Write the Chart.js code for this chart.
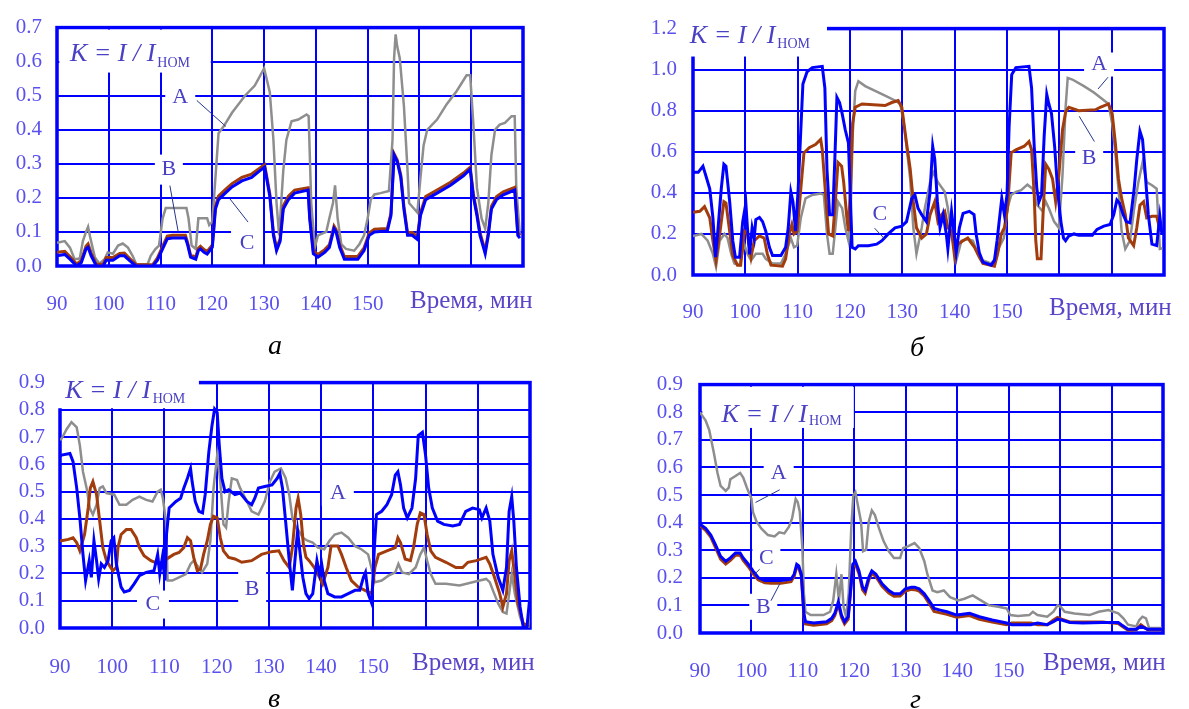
<!DOCTYPE html>
<html>
<head>
<meta charset="utf-8">
<script src="https://cdn.jsdelivr.net/npm/chart.js@4.4.1/dist/chart.umd.min.js"></script>
<style>
    body { margin: 0; background: #fff; width: 1189px; height: 709px; position: relative; overflow: hidden; font-family: 'Liberation Serif', serif; }
    canvas { position: absolute; }
    .cap { position: absolute; font-style: italic; font-size: 28px; line-height: 28px; color: #000; }
</style>
</head>
<body>
<canvas id="chart-a" width="560" height="330" style="left:0;top:0"></canvas>
<canvas id="chart-b" width="559" height="330" style="left:630px;top:0"></canvas>
<canvas id="chart-v" width="560" height="330" style="left:0;top:355px"></canvas>
<canvas id="chart-g" width="559" height="330" style="left:630px;top:355px"></canvas>
<div class="cap" style="left:268px;top:331px">а</div>
<div class="cap" style="left:910px;top:333px">б</div>
<div class="cap" style="left:268px;top:684px">в</div>
<div class="cap" style="left:910px;top:685px">г</div>

<script>
/* ---------- Данные: [время, мин ; K = I / Iном] ---------- */
const xTicks = [90, 100, 110, 120, 130, 140, 150];   // подписанные деления оси времени
const seriesNames = ['A', 'B', 'C'];

// а
const aA = [[90,0.068],[91.5,0.073],[92.5,0.054],[93.4,0.02],[94.4,0.022],[95,0.073],[95.6,0.10],[96,0.115],[96.4,0.085],[97.3,0.026],[98.2,0.007],[99.2,0.02],[99.8,0.04],[100.8,0.036],[101.8,0.06],[102.7,0.066],[103.7,0.054],[104.6,0.03],[105.3,0.005],[107.5,0.005],[108.1,0.03],[109,0.05],[109.7,0.06],[110.4,0.14],[111,0.17],[115,0.17],[115.4,0.14],[116,0.06],[116.8,0.05],[117.3,0.14],[119,0.14],[119.4,0.12],[120,0.13],[121.2,0.39],[122.2,0.41],[123.8,0.45],[126.3,0.50],[128.2,0.53],[130,0.58],[131.1,0.51],[131.8,0.37],[132.4,0.185],[132.9,0.09],[133.7,0.28],[134.3,0.37],[135.3,0.425],[136.6,0.43],[138.2,0.445],[138.6,0.44],[139.1,0.185],[139.8,0.055],[140.4,0.09],[142,0.10],[142.6,0.14],[143.3,0.185],[143.7,0.237],[144.2,0.14],[144.9,0.064],[145.8,0.05],[147.4,0.045],[148.4,0.064],[149.3,0.09],[150,0.14],[150.6,0.195],[151.3,0.21],[152.5,0.214],[154.1,0.22],[154.8,0.37],[155.1,0.61],[155.4,0.68],[155.7,0.645],[156.2,0.61],[157,0.47],[157.7,0.28],[158,0.185],[159.6,0.157],[160.2,0.26],[160.8,0.354],[161.5,0.40],[163.4,0.43],[165.3,0.476],[167.2,0.514],[169.1,0.56],[169.8,0.56],[170.4,0.42],[171.1,0.23],[172,0.14],[172.7,0.11],[173.3,0.185],[173.9,0.326],[174.6,0.40],[175.5,0.415],[176.5,0.42],[177.8,0.44],[178.4,0.44],[178.7,0.23],[179.4,0.09]];
const aB = [[90,0.04],[91.5,0.043],[92.5,0.028],[93.8,0.006],[94.7,0.016],[95.6,0.058],[96,0.065],[96.6,0.038],[97.6,0.005],[98.9,0.005],[99.5,0.025],[100.8,0.025],[102.1,0.037],[103,0.038],[104.3,0.018],[105.3,0.004],[108.5,0.004],[109.4,0.024],[110.4,0.058],[111.3,0.088],[112.3,0.09],[114.8,0.09],[115.2,0.07],[115.8,0.032],[116.8,0.027],[117.3,0.052],[117.7,0.058],[118.4,0.048],[119,0.043],[120,0.062],[120.6,0.175],[121.2,0.205],[122.5,0.224],[123.8,0.242],[125.7,0.26],[127.6,0.27],[129.2,0.288],[130.1,0.297],[131.1,0.212],[131.8,0.097],[132.4,0.052],[133.1,0.08],[133.7,0.176],[134.7,0.205],[135.9,0.223],[138.5,0.23],[138.8,0.147],[139.5,0.044],[140.4,0.034],[141.7,0.048],[142.6,0.062],[143.5,0.117],[143.9,0.107],[144.6,0.062],[145.5,0.028],[148.1,0.028],[149.3,0.053],[150.3,0.097],[151.3,0.108],[153.8,0.11],[154.5,0.155],[155.1,0.33],[155.7,0.312],[156.4,0.267],[157,0.175],[157.7,0.098],[158.6,0.098],[159.6,0.086],[160.2,0.156],[161.2,0.204],[163.4,0.223],[166,0.246],[168.5,0.273],[169.8,0.29],[170.4,0.213],[171.1,0.156],[171.7,0.098],[172.7,0.044],[173.3,0.098],[173.9,0.175],[174.9,0.204],[176.2,0.218],[178.4,0.231],[179,0.098],[179.4,0.09]];
const aC = [[90,0.03],[91.5,0.034],[92.5,0.02],[93.8,0.0],[94.7,0.01],[95.6,0.05],[96,0.055],[96.6,0.03],[97.6,0.0],[98.9,0.0],[99.5,0.017],[100.8,0.017],[102.1,0.03],[103,0.03],[104.3,0.012],[105.3,0],[108.5,0],[109.4,0.017],[110.4,0.05],[111.3,0.08],[112.3,0.082],[114.8,0.082],[115.2,0.064],[115.8,0.026],[116.8,0.02],[117.3,0.045],[117.7,0.05],[118.4,0.04],[119,0.035],[120,0.055],[120.6,0.167],[121.2,0.195],[122.5,0.214],[123.8,0.232],[125.7,0.25],[127.6,0.26],[129.2,0.28],[130.1,0.29],[131.1,0.205],[131.8,0.09],[132.4,0.045],[133.1,0.073],[133.7,0.167],[134.7,0.195],[135.9,0.214],[138.5,0.223],[138.8,0.14],[139.5,0.036],[140.4,0.026],[141.7,0.04],[142.6,0.054],[143.5,0.11],[143.9,0.10],[144.6,0.054],[145.5,0.02],[148.1,0.02],[149.3,0.045],[150.3,0.09],[151.3,0.10],[153.8,0.103],[154.5,0.148],[155.1,0.326],[155.7,0.307],[156.4,0.26],[157,0.167],[157.7,0.09],[158.6,0.09],[159.6,0.078],[160.2,0.148],[161.2,0.195],[163.4,0.214],[166,0.237],[168.5,0.265],[169.8,0.284],[170.4,0.205],[171.1,0.148],[171.7,0.09],[172.7,0.036],[173.3,0.09],[173.9,0.167],[174.9,0.195],[176.2,0.209],[178.4,0.223],[179,0.09],[179.4,0.082]];

// б
const bA = [[90,0.19],[91.6,0.2],[92.8,0.167],[93.8,0.103],[94.4,0.04],[95.1,0.167],[96,0.2],[96.6,0.18],[97.3,0.103],[97.9,0.056],[98.9,0.048],[99.8,0.15],[100.4,0.103],[101.1,0.071],[102,0.103],[103.3,0.103],[103.9,0.079],[105.2,0.056],[106.8,0.056],[107.7,0.103],[108.7,0.18],[109.3,0.135],[109.9,0.143],[110.6,0.278],[111.5,0.373],[112.8,0.39],[114.4,0.397],[115,0.39],[115.6,0.2],[116.1,0.103],[116.7,0.103],[117.2,0.23],[117.7,0.357],[118.5,0.325],[119.1,0.23],[119.7,0.167],[120.1,0.278],[120.5,0.675],[121,0.897],[121.6,0.944],[122.9,0.92],[124.8,0.897],[126.7,0.873],[128.6,0.85],[129.6,0.833],[130.2,0.754],[130.8,0.627],[131.5,0.468],[132.1,0.23],[132.7,0.103],[133.7,0.23],[134.3,0.325],[135.3,0.452],[135.9,0.5],[136.8,0.452],[138.1,0.405],[138.7,0.325],[139.4,0.2],[140.3,0.071],[141.3,0.167],[142.5,0.175],[143.5,0.167],[144.4,0.103],[145.4,0.071],[147,0.056],[147.9,0.087],[148.5,0.135],[149.4,0.18],[150.1,0.325],[150.8,0.39],[151.7,0.405],[152.7,0.413],[153.9,0.44],[154.9,0.42],[155.8,0.34],[156.8,0.31],[157.4,0.357],[158,0.325],[159,0.26],[159.9,0.23],[160.6,0.484],[161.2,0.817],[161.6,0.96],[162.5,0.952],[164.7,0.92],[166.6,0.889],[168.2,0.857],[169.4,0.833],[170.1,0.738],[170.7,0.595],[171.3,0.42],[171.9,0.214],[172.6,0.127],[173.5,0.167],[174.3,0.325],[175.1,0.452],[175.9,0.548],[176.7,0.452],[177.7,0.437],[178.6,0.42],[179.2,0.127],[179.7,0.13]];
const bB = [[90,0.306],[91.3,0.31],[92.2,0.333],[93.2,0.278],[93.8,0.167],[94.4,0.071],[95.1,0.2],[95.9,0.357],[96.3,0.35],[97,0.214],[97.6,0.095],[98.5,0.048],[99.1,0.048],[99.8,0.214],[100.4,0.2],[101.1,0.087],[101.7,0.167],[102.7,0.19],[103.6,0.18],[104.2,0.103],[104.9,0.048],[107.1,0.043],[107.7,0.079],[108.4,0.2],[108.9,0.246],[109.3,0.2],[109.9,0.214],[110.6,0.42],[111.2,0.595],[112.2,0.62],[113.4,0.635],[114.4,0.66],[114.7,0.61],[115.3,0.405],[115.9,0.2],[116.7,0.19],[117.2,0.357],[117.7,0.548],[118.4,0.53],[118.8,0.45],[119.4,0.278],[119.7,0.214],[120.1,0.437],[120.5,0.738],[121,0.817],[122.3,0.833],[126.7,0.825],[128,0.84],[129.2,0.85],[129.9,0.817],[130.8,0.643],[131.5,0.516],[132.1,0.357],[132.7,0.23],[133.7,0.18],[134.6,0.2],[135.3,0.294],[136.2,0.357],[136.8,0.26],[137.5,0.294],[138.1,0.31],[138.7,0.23],[139.4,0.214],[140,0.087],[140.6,0.15],[141.6,0.167],[142.5,0.18],[143.8,0.135],[144.7,0.087],[145.4,0.056],[147.6,0.043],[148.2,0.103],[148.9,0.2],[149.5,0.23],[150.1,0.325],[150.8,0.595],[151.7,0.61],[153.3,0.627],[154.2,0.65],[154.7,0.61],[155.2,0.39],[155.5,0.167],[155.8,0.079],[156.5,0.079],[157,0.357],[157.4,0.54],[158,0.516],[158.7,0.468],[159.3,0.357],[159.9,0.484],[160.6,0.706],[161.2,0.794],[161.8,0.817],[163.7,0.8],[166.9,0.805],[167.8,0.817],[169.4,0.833],[170.1,0.786],[170.7,0.643],[171.3,0.468],[171.9,0.373],[172.6,0.294],[173.2,0.18],[174.2,0.143],[174.8,0.23],[175.4,0.34],[176.1,0.357],[176.7,0.278],[177.7,0.286],[178.6,0.286],[179.2,0.222],[179.6,0.214]];
const bC = [[90,0.50],[91,0.5],[91.9,0.53],[92.5,0.48],[93.2,0.42],[93.8,0.28],[94.3,0.087],[94.7,0.2],[95.4,0.42],[95.9,0.54],[96.3,0.53],[97,0.36],[97.6,0.167],[98.1,0.087],[98.9,0.087],[99.5,0.26],[100.1,0.35],[100.4,0.23],[100.8,0.10],[101.3,0.23],[101.7,0.18],[102,0.27],[102.7,0.28],[103.3,0.26],[103.9,0.214],[104.6,0.135],[105.2,0.095],[106.8,0.095],[107.7,0.135],[108.2,0.23],[108.7,0.405],[109.1,0.357],[109.6,0.214],[110.1,0.42],[110.6,0.706],[111,0.93],[111.8,0.99],[112.8,1.01],[114.7,1.016],[115.2,0.91],[115.6,0.515],[116.1,0.294],[116.7,0.294],[117.1,0.563],[117.5,0.865],[118,0.84],[118.5,0.786],[119.1,0.706],[119.7,0.643],[120.1,0.357],[120.4,0.135],[121,0.127],[121.6,0.143],[123.5,0.143],[125.1,0.15],[126.1,0.167],[127.3,0.2],[128.6,0.23],[129.9,0.238],[130.8,0.26],[131.8,0.373],[132.4,0.39],[133,0.325],[133.7,0.294],[134.6,0.26],[135.3,0.405],[135.8,0.627],[136.2,0.563],[136.7,0.357],[137.2,0.23],[137.8,0.294],[138.4,0.2],[138.7,0.127],[139.4,0.31],[139.9,0.2],[140.3,0.11],[140.9,0.23],[141.6,0.30],[142.8,0.31],[143.7,0.294],[144.1,0.2],[144.7,0.11],[145.4,0.063],[147,0.048],[147.6,0.071],[148.1,0.167],[148.5,0.26],[149,0.373],[149.5,0.294],[150,0.39],[150.4,0.72],[150.9,0.976],[151.7,1.01],[154.2,1.016],[154.7,0.91],[155.2,0.627],[155.7,0.42],[156.1,0.357],[156.6,0.39],[157.1,0.675],[157.6,0.88],[158,0.833],[158.5,0.786],[159.1,0.627],[159.7,0.405],[160.3,0.26],[160.8,0.18],[161.2,0.167],[161.8,0.19],[162.8,0.2],[163.7,0.194],[166.3,0.194],[167.2,0.222],[168.5,0.238],[169.7,0.246],[170.4,0.294],[171,0.365],[171.5,0.35],[172.2,0.294],[172.8,0.26],[173.5,0.254],[174.3,0.42],[174.8,0.563],[175.4,0.70],[175.9,0.66],[176.4,0.5],[177,0.294],[177.7,0.15],[178.6,0.143],[179.2,0.286],[179.6,0.2]];

// в
const vA = [[90,0.69],[90.3,0.694],[91.3,0.73],[92.2,0.755],[93.2,0.736],[93.8,0.67],[94.4,0.573],[95.1,0.513],[95.7,0.44],[96.3,0.416],[97,0.452],[97.6,0.513],[98.2,0.519],[98.9,0.495],[100.4,0.489],[101.4,0.452],[102.7,0.452],[103.9,0.47],[105.2,0.482],[106.5,0.47],[107.7,0.464],[108.7,0.5],[109.3,0.507],[109.7,0.476],[110.3,0.39],[110.6,0.174],[111.5,0.174],[112.8,0.186],[114.1,0.198],[115,0.235],[115.6,0.247],[116.3,0.228],[117.2,0.204],[118.2,0.235],[118.8,0.32],[119.4,0.513],[120.1,0.634],[120.7,0.537],[121.3,0.38],[121.8,0.368],[122.3,0.464],[122.9,0.549],[123.9,0.543],[124.5,0.513],[125.8,0.464],[126.7,0.428],[128,0.416],[129.2,0.464],[130.2,0.537],[131.1,0.573],[132.3,0.585],[133.2,0.55],[133.9,0.489],[134.5,0.404],[135.2,0.368],[135.8,0.355],[136.5,0.331],[137.4,0.32],[138.4,0.313],[139.4,0.295],[140.6,0.289],[141.6,0.32],[142.6,0.343],[143.9,0.35],[145.2,0.331],[146.5,0.30],[147.7,0.289],[149,0.27],[149.7,0.216],[150.3,0.168],[151.6,0.174],[152.9,0.192],[154.2,0.204],[154.8,0.235],[155.5,0.204],[156.8,0.198],[158.1,0.222],[159,0.27],[159.7,0.295],[160.3,0.247],[161,0.198],[161.9,0.162],[163.9,0.162],[166.5,0.156],[169,0.168],[171.6,0.18],[172.3,0.168],[172.9,0.138],[173.9,0.09],[174.8,0.059],[175.5,0.053],[176.1,0.138],[176.5,0.198],[177.1,0.126],[178.1,0.041],[178.7,0.01],[179.7,0.005],[180,0.10]];
const vB = [[90,0.32],[90.3,0.32],[91.6,0.325],[92.5,0.331],[93.2,0.313],[93.8,0.283],[94.7,0.343],[95.4,0.44],[95.8,0.513],[96.3,0.537],[97,0.489],[97.6,0.392],[98.2,0.295],[98.9,0.247],[100.1,0.21],[100.8,0.222],[101.1,0.295],[101.7,0.343],[102.7,0.361],[103.6,0.361],[104.6,0.331],[105.2,0.295],[106.1,0.265],[107.4,0.247],[108.9,0.235],[109.9,0.247],[110.9,0.259],[111.8,0.27],[112.8,0.277],[113.7,0.295],[114.4,0.331],[115,0.32],[115.6,0.259],[116.3,0.21],[116.9,0.216],[117.5,0.27],[118.2,0.32],[118.8,0.38],[119.4,0.41],[120.1,0.404],[120.7,0.331],[121.3,0.283],[122.3,0.259],[123.5,0.253],[124.8,0.241],[126.7,0.247],[128.6,0.27],[130.5,0.28],[131.9,0.283],[132.9,0.247],[133.9,0.222],[134.5,0.295],[135.2,0.44],[135.6,0.476],[136.1,0.416],[136.6,0.307],[137.1,0.259],[137.7,0.247],[138.7,0.222],[139.7,0.186],[140.3,0.162],[141.3,0.222],[141.9,0.301],[143.2,0.301],[143.9,0.27],[144.8,0.222],[145.8,0.174],[147.1,0.15],[148.4,0.138],[149.7,0.126],[150.3,0.222],[151,0.27],[152.6,0.283],[154.2,0.295],[154.7,0.331],[155.2,0.313],[156.1,0.253],[157.1,0.247],[157.7,0.295],[158.4,0.38],[159,0.422],[159.7,0.416],[160.3,0.343],[161,0.283],[161.9,0.259],[163.9,0.241],[165.8,0.222],[167.1,0.222],[168.1,0.241],[169.7,0.247],[171.6,0.259],[172.3,0.235],[173.2,0.186],[174.2,0.126],[174.8,0.077],[175.5,0.126],[176,0.247],[176.5,0.283],[176.9,0.222],[177.7,0.09],[178.7,0.017],[179.7,0.005]];
const vC = [[90,0.63],[90.3,0.634],[91.9,0.64],[92.5,0.61],[93.2,0.513],[93.8,0.404],[94.4,0.27],[94.9,0.174],[95.6,0.247],[96,0.186],[96.5,0.32],[97,0.247],[97.4,0.18],[97.9,0.235],[98.5,0.222],[99.2,0.247],[99.8,0.32],[100.3,0.331],[100.8,0.235],[101.3,0.186],[101.7,0.15],[102.3,0.132],[103.3,0.138],[104.2,0.162],[105.2,0.192],[106.5,0.204],[108,0.21],[108.7,0.27],[109.1,0.198],[109.6,0.259],[110.1,0.174],[110.4,0.343],[110.9,0.44],[112.2,0.464],[113.1,0.476],[113.7,0.513],[114.4,0.549],[115,0.585],[115.3,0.537],[115.9,0.464],[116.6,0.428],[117.3,0.422],[117.8,0.489],[118.5,0.646],[119.1,0.742],[119.6,0.803],[120.1,0.79],[120.5,0.67],[121,0.549],[121.6,0.50],[122.3,0.507],[123.5,0.489],[124.5,0.495],[125.8,0.464],[126.7,0.452],[127.3,0.476],[128,0.513],[129.2,0.519],[130.6,0.525],[131.6,0.549],[132.1,0.567],[132.6,0.513],[133.2,0.392],[133.9,0.247],[134.5,0.138],[135.2,0.295],[135.5,0.355],[136,0.27],[136.5,0.186],[137.1,0.126],[137.7,0.108],[138.4,0.126],[139.2,0.247],[139.7,0.198],[140.1,0.235],[140.6,0.174],[141.3,0.126],[142.6,0.114],[143.9,0.114],[145.2,0.126],[146.5,0.138],[147.4,0.138],[148.1,0.186],[148.5,0.204],[149,0.126],[149.7,0.09],[150.2,0.295],[150.6,0.416],[151.6,0.428],[152.6,0.452],[153.5,0.489],[154.2,0.561],[154.7,0.573],[155.2,0.525],[155.8,0.44],[156.5,0.404],[157.4,0.44],[158.1,0.549],[158.6,0.706],[159.4,0.718],[160,0.634],[160.6,0.513],[161.3,0.44],[162.3,0.392],[163.5,0.38],[165.2,0.374],[166.5,0.38],[167.7,0.428],[169,0.44],[170.3,0.434],[170.8,0.404],[171.6,0.44],[172.3,0.392],[172.9,0.27],[173.9,0.186],[174.8,0.138],[175.5,0.222],[176,0.428],[176.5,0.482],[176.9,0.392],[177.4,0.222],[178.1,0.077],[178.7,0.005],[179.4,0],[179.9,0.10]];

// г
const gA = [[90,0.80],[90.2,0.794],[91.1,0.77],[91.8,0.735],[92.7,0.652],[93.4,0.58],[94,0.533],[95,0.515],[95.6,0.527],[95.9,0.557],[96.9,0.569],[97.8,0.58],[98.4,0.563],[99.1,0.527],[100,0.486],[100.3,0.438],[101,0.403],[101.9,0.379],[103.2,0.355],[104.5,0.35],[105.4,0.365],[106.4,0.361],[107.3,0.385],[107.9,0.415],[108.6,0.486],[109,0.474],[109.4,0.438],[109.9,0.308],[110.2,0.142],[110.5,0.077],[111.5,0.065],[114,0.065],[115.3,0.077],[115.9,0.118],[116.5,0.213],[117,0.118],[117.5,0.213],[117.9,0.095],[118.4,0.059],[118.9,0.142],[119.4,0.379],[119.8,0.498],[120.2,0.51],[120.7,0.462],[121.3,0.403],[121.7,0.296],[122.3,0.302],[122.8,0.403],[123.4,0.444],[124,0.427],[124.8,0.379],[125.7,0.332],[126.7,0.296],[127.7,0.272],[128.9,0.272],[129.5,0.308],[130.4,0.314],[131.7,0.326],[132.6,0.308],[133.6,0.26],[134.2,0.213],[135.2,0.154],[136.1,0.148],[137.4,0.154],[138.6,0.13],[140.2,0.118],[141.4,0.124],[143,0.136],[144.6,0.118],[146.2,0.10],[148,0.095],[149.6,0.089],[150.3,0.065],[151.8,0.062],[154,0.065],[154.7,0.077],[155.6,0.065],[157.5,0.059],[158.7,0.077],[159.5,0.10],[160.1,0.095],[160.9,0.077],[162.8,0.071],[165.7,0.065],[167.5,0.077],[169.4,0.083],[171.3,0.071],[172.3,0.053],[173.2,0.03],[174.8,0.024],[175.4,0.047],[176,0.059],[176.7,0.053],[177.3,0.018],[179.8,0.018]];
const gB = [[90,0.39],[90.2,0.385],[91.1,0.372],[92.1,0.347],[93,0.31],[94,0.268],[95,0.25],[95.9,0.263],[96.9,0.282],[97.8,0.282],[98.4,0.263],[99.4,0.24],[100.3,0.215],[101.3,0.193],[102.6,0.182],[103.8,0.18],[105.7,0.18],[107.7,0.186],[108.3,0.205],[108.8,0.24],[109.2,0.235],[109.7,0.205],[110.2,0.063],[110.5,0.033],[112.1,0.028],[114.6,0.033],[115.6,0.045],[116.2,0.063],[116.9,0.104],[117.5,0.057],[118.1,0.033],[118.8,0.05],[119.2,0.133],[119.7,0.24],[120.2,0.25],[120.9,0.215],[121.6,0.156],[122.1,0.144],[122.8,0.192],[123.4,0.216],[124.2,0.204],[125.4,0.169],[126.7,0.145],[127.7,0.133],[128.9,0.134],[129.9,0.152],[131.1,0.158],[131.7,0.157],[132.6,0.152],[133.6,0.134],[134.5,0.108],[135.5,0.078],[136.7,0.073],[138,0.068],[139.9,0.057],[142.4,0.063],[144.3,0.05],[146.8,0.04],[149.6,0.03],[150.6,0.036],[154.3,0.036],[155.6,0.03],[157.5,0.03],[158.7,0.047],[159.5,0.056],[160.3,0.05],[161.9,0.04],[164.4,0.04],[168.2,0.04],[171.3,0.034],[171.9,0.026],[173.2,0.01],[174.8,0.012],[175.7,0.03],[177,0.012],[179.8,0.012]];
const gC = [[90,0.40],[90.2,0.391],[91.1,0.379],[92.1,0.355],[93,0.32],[94,0.278],[95,0.26],[95.9,0.272],[96.9,0.29],[97.8,0.29],[98.4,0.272],[99.4,0.249],[100.3,0.225],[101.3,0.201],[102.6,0.19],[103.8,0.19],[105.7,0.19],[107.7,0.195],[108.3,0.213],[108.8,0.249],[109.2,0.243],[109.7,0.213],[110.2,0.071],[110.5,0.041],[112.1,0.036],[114.6,0.041],[115.6,0.053],[116.2,0.071],[116.9,0.113],[117.5,0.065],[118.1,0.041],[118.8,0.059],[119.2,0.142],[119.7,0.249],[120.2,0.26],[120.9,0.225],[121.6,0.166],[122.1,0.154],[122.8,0.201],[123.4,0.225],[124.2,0.213],[125.4,0.178],[126.7,0.154],[127.7,0.142],[128.9,0.142],[129.9,0.16],[131.1,0.166],[131.7,0.166],[132.6,0.16],[133.6,0.142],[134.5,0.118],[135.5,0.089],[136.7,0.083],[138,0.077],[139.9,0.065],[142.4,0.071],[144.3,0.059],[146.8,0.047],[149.6,0.036],[150.6,0.03],[154.3,0.03],[155.6,0.036],[157.5,0.03],[158.7,0.041],[159.5,0.05],[160.3,0.047],[161.9,0.038],[164.4,0.036],[168.2,0.038],[171.3,0.038],[171.9,0.03],[173.2,0.014],[174.8,0.014],[175.7,0.024],[177,0.014],[179.8,0.014]];

/* ---------- Стиль ---------- */
const FONT = "'Liberation Serif', 'Times New Roman', serif";
const GRID = '#0000ff';
const TICK = '#5a50ee';
const NOTE = '#4a40c4';
const LEAD = '#26348a';
const COLORS = { A: '#8e8e8e', B: '#a23c0c', C: '#0000ff' };
const WIDTHS = { A: 2.5, B: 3, C: 3 };

/* Оформление: подписи, белые вставки, выноски (координаты в единицах осей) */
const panels = [
    {
        id: 'chart-a', series: { A: aA, B: aB, C: aC }, ymax: 0.7, ystep: 0.1,
        yWidth: 57, padTop: 17, padRight: 37, xHeight: 64, xPad: 26, yPad: 15, titleDx: -113, titleDy: 42,
        box: [90.45, 119.7, 0.694, 0.568], formula: [92.5, 0.602, 6],
        labels: [
            { t: 'A', x: 113.8, y: 0.495, w: 30, h: 24 },
            { t: 'B', x: 111.6, y: 0.283, w: 28, h: 30 },
            { t: 'C', x: 126.7, y: 0.068, w: 32, h: 30 }
        ],
        leaders: [[117.0, 0.486, 122.6, 0.41], [111.8, 0.236, 113.4, 0.101], [126.9, 0.129, 123.4, 0.197]]
    },
    {
        id: 'chart-b', series: { A: bA, B: bB, C: bC }, ymax: 1.2, ystep: 0.2,
        yWidth: 63, padTop: 22, padRight: 24, xHeight: 55, xPad: 25, yPad: 16, titleDx: -115, titleDy: 40,
        box: [88.3, 115.6, 1.24, 1.064], formula: [89.4, 1.13, 5],
        labels: [
            { t: 'A', x: 167.6, y: 1.025, w: 30, h: 24 },
            { t: 'B', x: 165.7, y: 0.57, w: 28, h: 28 },
            { t: 'C', x: 125.7, y: 0.294, w: 0, h: 0 }
        ],
        leaders: [[169.3, 0.963, 167.4, 0.906], [166.7, 0.65, 163.8, 0.773], [124.7, 0.228, 126.6, 0.176]]
    },
    {
        id: 'chart-v', series: { A: vA, B: vB, C: vC }, ymax: 0.9, ystep: 0.1,
        yWidth: 60, padTop: 25, padRight: 30, xHeight: 57, xPad: 27, yPad: 15, titleDx: -118, titleDy: 42,
        box: [89, 116.6, 0.945, 0.806], formula: [91, 0.845, 5],
        labels: [
            { t: 'A', x: 143.2, y: 0.496, w: 32, h: 26 },
            { t: 'B', x: 126.8, y: 0.143, w: 28, h: 34 },
            { t: 'C', x: 107.8, y: 0.086, w: 32, h: 28 }
        ],
        leaders: []
    },
    {
        id: 'chart-g', series: { A: gA, B: gB, C: gC }, ymax: 0.9, ystep: 0.1,
        yWidth: 70, padTop: 25, padRight: 14, xHeight: 52, xPad: 26, yPad: 17, titleDx: -120, titleDy: 37,
        box: [90.45, 119.9, 0.892, 0.743], formula: [94.2, 0.765, 3],
        labels: [
            { t: 'A', x: 105.3, y: 0.58, w: 30, h: 26 },
            { t: 'C', x: 102.9, y: 0.27, w: 28, h: 26 },
            { t: 'B', x: 102.3, y: 0.095, w: 28, h: 26 }
        ],
        leaders: [[105.5, 0.519, 100.8, 0.473], [101.6, 0.231, 100.6, 0.213], [103.8, 0.117, 105.5, 0.178]]
    }
];

/* ---------- Плагин: рамка, вставки, надписи ---------- */
function notesPlugin(p) {
    return {
        id: 'notes',
        beforeDatasetsDraw(chart) {
            const { ctx, chartArea: a, scales: { x, y } } = chart;
            ctx.save();
            ctx.strokeStyle = GRID;
            ctx.lineWidth = 3.5;
            ctx.strokeRect(a.left, a.top, a.right - a.left, a.bottom - a.top);
            ctx.fillStyle = '#fff';
            const bx1 = x.getPixelForValue(p.box[0]), bx2 = x.getPixelForValue(p.box[1]);
            const by1 = y.getPixelForValue(p.box[2]), by2 = y.getPixelForValue(p.box[3]);
            ctx.fillRect(bx1, by1, bx2 - bx1, by2 - by1);
            p.labels.forEach(l => {
                if (!l.w) return;
                const cx = x.getPixelForValue(l.x), cy = y.getPixelForValue(l.y);
                ctx.fillRect(cx - l.w / 2, cy - l.h / 2, l.w, l.h);
            });
            ctx.restore();
        },
        afterDatasetsDraw(chart) {
            const { ctx, chartArea: a, scales: { x, y } } = chart;
            ctx.save();
            // формула K = I / Iном
            ctx.fillStyle = NOTE;
            ctx.textBaseline = 'alphabetic';
            ctx.font = `italic 26px ${FONT}`;
            const fx = x.getPixelForValue(p.formula[0]), fy = y.getPixelForValue(p.formula[1]);
            const main = 'K = I / I';
            ctx.fillText(main, fx, fy);
            const w = ctx.measureText(main).width;
            ctx.font = `14px ${FONT}`;
            ctx.fillText('НОМ', fx + w + 2, fy + p.formula[2]);
            // подписи кривых
            ctx.font = `22px ${FONT}`;
            ctx.textAlign = 'center';
            ctx.textBaseline = 'middle';
            p.labels.forEach(l => ctx.fillText(l.t, x.getPixelForValue(l.x), y.getPixelForValue(l.y)));
            // выноски
            ctx.strokeStyle = LEAD;
            ctx.lineWidth = 1;
            p.leaders.forEach(s => {
                ctx.beginPath();
                ctx.moveTo(x.getPixelForValue(s[0]), y.getPixelForValue(s[1]));
                ctx.lineTo(x.getPixelForValue(s[2]), y.getPixelForValue(s[3]));
                ctx.stroke();
            });
            // название оси времени
            ctx.fillStyle = '#5a44c8';
            ctx.textAlign = 'left';
            ctx.textBaseline = 'alphabetic';
            ctx.font = `25px ${FONT}`;
            ctx.fillText('Время, мин', a.right + p.titleDx, a.bottom + p.titleDy);
            ctx.restore();
        }
    };
}

/* ---------- Построение ---------- */
panels.forEach(p => {
    const datasets = ['C', 'B', 'A'].map(k => ({
        label: k,
        data: p.series[k].map(d => ({ x: d[0], y: d[1] })),
        borderColor: COLORS[k],
        borderWidth: WIDTHS[k],
        pointRadius: 0,
        tension: 0,
        fill: false
    }));

    new Chart(document.getElementById(p.id), {
        type: 'line',
        data: { datasets },
        options: {
            responsive: false,
            animation: false,
            devicePixelRatio: 1,
            layout: { padding: { top: p.padTop, right: p.padRight, left: 0, bottom: 0 } },
            plugins: { legend: { display: false }, tooltip: { enabled: false } },
            scales: {
                x: {
                    type: 'linear', min: 90, max: 180,
                    grid: { color: GRID, lineWidth: 2, drawTicks: false },
                    border: { display: false },
                    ticks: {
                        stepSize: 10, padding: p.xPad, maxRotation: 0, autoSkip: false,
                        color: TICK, font: { family: FONT, size: 21 },
                        callback: v => xTicks.includes(v) ? String(v) : ''
                    },
                    afterFit: s => { s.height = p.xHeight; }
                },
                y: {
                    min: 0, max: p.ymax,
                    grid: { color: GRID, lineWidth: 2, drawTicks: false },
                    border: { display: false },
                    ticks: {
                        stepSize: p.ystep, padding: p.yPad, autoSkip: false,
                        color: TICK, font: { family: FONT, size: 21 },
                        callback: v => v.toFixed(1)
                    },
                    afterFit: s => { s.width = p.yWidth; }
                }
            }
        },
        plugins: [notesPlugin(p)]
    });
});
</script>
</body>
</html>
